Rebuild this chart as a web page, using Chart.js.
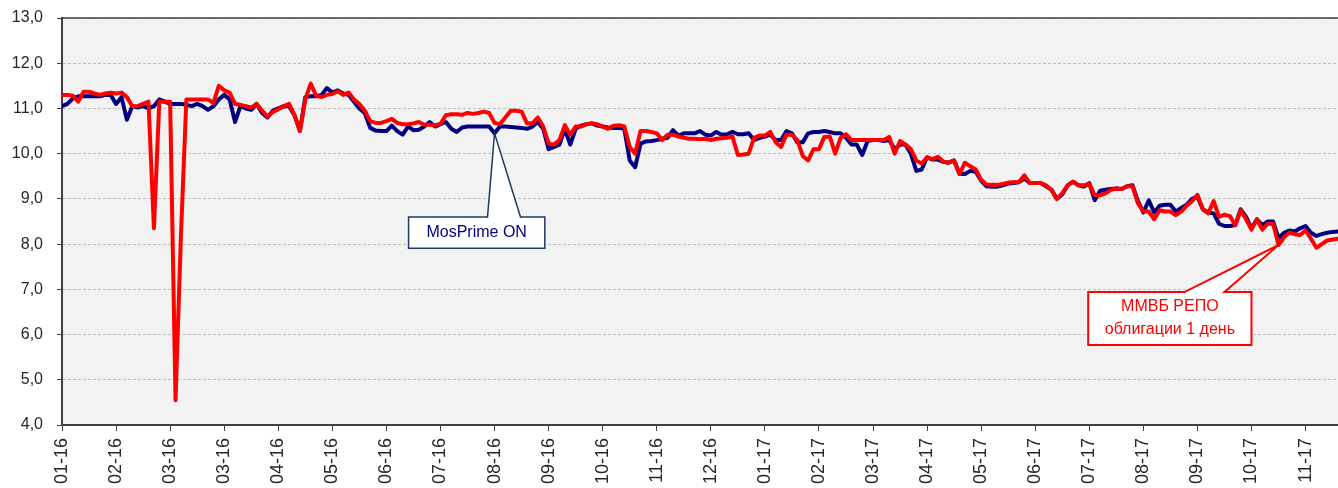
<!DOCTYPE html>
<html>
<head>
<meta charset="utf-8">
<script src="https://cdn.jsdelivr.net/npm/chart.js@4.4.1/dist/chart.umd.min.js"></script>
<style>
  html, body { margin: 0; padding: 0; background: #ffffff; }
  #wrap { width: 1338px; height: 488px; position: relative; }
</style>
</head>
<body>
<div id="wrap"><canvas id="rateChart"></canvas></div>
<script>
// Tick labels along the x axis, one every 10 trading days
const tickLabels = ['01-16', '02-16', '03-16', '03-16', '04-16', '05-16', '06-16', '07-16',
    '08-16', '09-16', '10-16', '11-16', '12-16', '01-17', '02-17', '03-17', '04-17', '05-17',
    '06-17', '07-17', '08-17', '09-17', '10-17', '11-17'];
const tickStep = 10;

// MosPrime ON, %
const mosprime = [
    11.05, 11.1, 11.22, 11.27, 11.27, 11.27, 11.27, 11.27, 11.3, 11.3,
    11.1, 11.25, 10.75, 11.05, 11.02, 11.05, 11.0, 11.05, 11.2, 11.15,
    11.1, 11.1, 11.1, 11.08, 11.05, 11.1, 11.05, 10.97, 11.05, 11.2,
    11.3, 11.2, 10.7, 11.05, 11.0, 10.97, 11.1, 10.9, 10.8, 10.95,
    11.0, 11.05, 11.05, 10.85, 10.5, 11.25, 11.27, 11.27, 11.3, 11.45,
    11.35, 11.4, 11.33, 11.3, 11.15, 11.0, 10.9, 10.57, 10.51, 10.5,
    10.5, 10.62, 10.5, 10.42, 10.6, 10.52, 10.53, 10.6, 10.7, 10.6,
    10.65, 10.7, 10.55, 10.48, 10.58, 10.6, 10.6, 10.6, 10.6, 10.6,
    10.45, 10.6, 10.6, 10.59, 10.58, 10.57, 10.55, 10.6, 10.7, 10.55,
    10.1, 10.15, 10.2, 10.55, 10.2, 10.55, 10.62, 10.65, 10.67, 10.62,
    10.6, 10.58, 10.57, 10.57, 10.55, 9.85, 9.7, 10.22, 10.27, 10.28,
    10.3, 10.33, 10.35, 10.52, 10.4, 10.45, 10.45, 10.45, 10.5, 10.42,
    10.4, 10.48, 10.42, 10.43, 10.48, 10.43, 10.43, 10.45, 10.3, 10.35,
    10.38, 10.42, 10.3, 10.3, 10.5, 10.45, 10.25, 10.25, 10.45, 10.48,
    10.48, 10.5, 10.48, 10.45, 10.45, 10.35, 10.2, 10.2, 9.97, 10.28,
    10.3, 10.3, 10.28, 10.3, 10.1, 10.2, 10.2, 10.0, 9.62, 9.65,
    9.92, 9.87, 9.87, 9.82, 9.8, 9.85, 9.55, 9.55, 9.62, 9.6,
    9.4, 9.28, 9.27, 9.27, 9.3, 9.34, 9.35, 9.37, 9.45, 9.35,
    9.35, 9.35, 9.28, 9.2, 9.0, 9.1, 9.3, 9.38, 9.3, 9.27,
    9.35, 8.97, 9.18, 9.2, 9.22, 9.23, 9.22, 9.28, 9.3, 8.95,
    8.7, 8.97, 8.7, 8.85, 8.87, 8.87, 8.72, 8.8, 8.87, 9.0,
    9.05, 8.77, 8.7, 8.68, 8.45, 8.4, 8.4, 8.42, 8.77, 8.6,
    8.35, 8.55, 8.42, 8.5, 8.5, 8.13, 8.25, 8.3, 8.28, 8.35,
    8.4, 8.25, 8.18, 8.22, 8.25, 8.27, 8.28
];

// MICEX repo (bonds, 1 day), %
const repo = [
    11.3, 11.3, 11.28, 11.15, 11.37, 11.37, 11.33, 11.3, 11.33, 11.35,
    11.33, 11.35, 11.25, 11.05, 11.05, 11.1, 11.15, 8.35, 11.15, 11.15,
    11.15, 4.55, 8.2, 11.2, 11.2, 11.2, 11.2, 11.2, 11.12, 11.5,
    11.4, 11.35, 11.1, 11.08, 11.05, 11.02, 11.1, 10.95, 10.82, 10.92,
    10.98, 11.05, 11.1, 10.85, 10.5, 11.2, 11.55, 11.28, 11.25, 11.3,
    11.32, 11.38, 11.3, 11.35, 11.2, 11.1, 10.95, 10.72, 10.68, 10.68,
    10.72, 10.77, 10.68, 10.65, 10.65, 10.67, 10.7, 10.64, 10.64, 10.63,
    10.66, 10.85, 10.87, 10.87, 10.86, 10.9, 10.88, 10.9, 10.93, 10.9,
    10.68, 10.65, 10.8, 10.95, 10.95, 10.93, 10.67, 10.67, 10.8, 10.6,
    10.22, 10.2, 10.3, 10.63, 10.42, 10.6, 10.6, 10.65, 10.67, 10.65,
    10.6, 10.55, 10.62, 10.63, 10.6, 10.15, 10.0, 10.5, 10.5, 10.48,
    10.45, 10.3, 10.42, 10.42, 10.38, 10.35, 10.33, 10.33, 10.32, 10.33,
    10.3, 10.33, 10.34, 10.35, 10.38, 9.97, 9.98, 10.0, 10.35, 10.4,
    10.4, 10.48, 10.25, 10.15, 10.42, 10.42, 10.3, 9.95, 9.85, 10.1,
    10.1, 10.37, 10.38, 10.0, 10.35, 10.43, 10.3, 10.3, 10.3, 10.3,
    10.3, 10.3, 10.3, 10.37, 10.0, 10.28, 10.2, 10.1, 9.85, 9.78,
    9.92, 9.88, 9.93, 9.82, 9.8, 9.85, 9.55, 9.8, 9.72, 9.65,
    9.42, 9.32, 9.31, 9.31, 9.33, 9.36, 9.37, 9.38, 9.52, 9.35,
    9.35, 9.35, 9.3, 9.2, 9.0, 9.12, 9.3, 9.38, 9.3, 9.3,
    9.33, 9.08, 9.08, 9.12, 9.2, 9.23, 9.22, 9.28, 9.28, 8.9,
    8.73, 8.72, 8.55, 8.75, 8.72, 8.72, 8.64, 8.72, 8.85, 8.95,
    9.09, 8.77, 8.68, 8.95, 8.6, 8.65, 8.62, 8.42, 8.75, 8.55,
    8.32, 8.55, 8.32, 8.45, 8.45, 7.98, 8.15, 8.25, 8.22, 8.2,
    8.3, 8.12, 7.92, 8.0, 8.08, 8.1, 8.12
];

const yTicks = { min: 4, max: 13, step: 1 };

const FONT = "'Liberation Sans', Arial, sans-serif";
const NAVY = '#000080';
const RED = '#FF0000';

// Callout boxes, placed in axis units (day index / percent)
const callouts = [
    {
        series: mosprime, point: 80,
        box: [64.1, 89.3, 8.6, 7.91], base: [78.7, 84.8],
        border: '#1F3864', borderWidth: 1.5, color: NAVY,
        lines: ['MosPrime ON']
    },
    {
        series: repo, point: 225,
        box: [189.8, 220, 6.94, 5.77], base: [207.6, 215.0],
        border: RED, borderWidth: 2, color: RED,
        lines: ['ММВБ РЕПО', 'облигации 1 день']
    }
];

function toPoints(values) {
    return values.map((v, i) => ({ x: i, y: v }));
}

function drawCallout(chart, c) {
    const ctx = chart.ctx;
    const xs = chart.scales.x;
    const ys = chart.scales.y;
    const left = xs.getPixelForValue(c.box[0]);
    const right = xs.getPixelForValue(c.box[1]);
    const top = ys.getPixelForValue(c.box[2]);
    const bottom = ys.getPixelForValue(c.box[3]);
    const b1 = xs.getPixelForValue(c.base[0]);
    const b2 = xs.getPixelForValue(c.base[1]);
    const tipX = xs.getPixelForValue(c.point);
    const tipY = ys.getPixelForValue(c.series[c.point]);

    ctx.save();
    ctx.beginPath();
    ctx.moveTo(left, top);
    ctx.lineTo(b1, top);
    ctx.lineTo(tipX, tipY);
    ctx.lineTo(b2, top);
    ctx.lineTo(right, top);
    ctx.lineTo(right, bottom);
    ctx.lineTo(left, bottom);
    ctx.closePath();
    ctx.fillStyle = '#ffffff';
    ctx.fill();
    ctx.lineWidth = c.borderWidth;
    ctx.strokeStyle = c.border;
    ctx.lineJoin = 'miter';
    ctx.stroke();

    ctx.fillStyle = c.color;
    ctx.font = '16px ' + FONT;
    ctx.textAlign = 'center';
    ctx.textBaseline = 'middle';
    const cx = (left + right) / 2;
    const cy = (top + bottom) / 2;
    const lh = 23;
    c.lines.forEach((t, k) => {
        ctx.fillText(t, cx, cy + (k - (c.lines.length - 1) / 2) * lh);
    });
    ctx.restore();
}

const plotDecor = {
    id: 'plotDecor',
    beforeDraw(chart) {
        const { ctx, chartArea: a } = chart;
        ctx.save();
        ctx.fillStyle = '#F2F2F2';
        ctx.fillRect(a.left, a.top, a.right - a.left, a.bottom - a.top);
        ctx.restore();
    },
    afterDraw(chart) {
        const { ctx, chartArea: a } = chart;
        // top border of the plot area
        ctx.save();
        ctx.strokeStyle = '#404040';
        ctx.lineWidth = 1.5;
        ctx.beginPath();
        ctx.moveTo(a.left, a.top);
        ctx.lineTo(a.right, a.top);
        ctx.stroke();
        ctx.restore();
        callouts.forEach(c => drawCallout(chart, c));
    }
};

const ctx = document.getElementById('rateChart').getContext('2d');

new Chart(ctx, {
    type: 'line',
    data: {
        datasets: [
            {
                label: 'ММВБ РЕПО облигации 1 день',
                data: toPoints(repo),
                borderColor: RED,
                backgroundColor: RED,
                borderWidth: 4,
                pointRadius: 0,
                tension: 0,
                borderJoinStyle: 'round',
                borderCapStyle: 'round',
                order: 1
            },
            {
                label: 'MosPrime ON',
                data: toPoints(mosprime),
                borderColor: NAVY,
                backgroundColor: NAVY,
                borderWidth: 4,
                pointRadius: 0,
                tension: 0,
                borderJoinStyle: 'round',
                borderCapStyle: 'round',
                order: 2
            }
        ]
    },
    options: {
        responsive: true,
        maintainAspectRatio: false,
        animation: false,
        layout: { padding: { top: 18, left: 0, right: 0, bottom: 0 } },
        plugins: {
            legend: { display: false },
            tooltip: { enabled: false }
        },
        scales: {
            x: {
                type: 'linear',
                min: 0,
                max: mosprime.length - 1,
                afterFit: scale => {
                    scale.height = 63;
                    scale.paddingLeft = 0;
                    scale.paddingRight = 0;
                },
                grid: {
                    drawOnChartArea: false,
                    tickLength: 6,
                    tickColor: '#404040',
                    lineWidth: 1
                },
                border: { color: '#404040', width: 2 },
                ticks: {
                    stepSize: tickStep,
                    includeBounds: false,
                    autoSkip: false,
                    minRotation: 90,
                    maxRotation: 90,
                    padding: 7,
                    color: '#262626',
                    font: { family: FONT, size: 18 },
                    callback: v => (v % tickStep === 0 ? tickLabels[v / tickStep] : null)
                }
            },
            y: {
                min: yTicks.min,
                max: yTicks.max,
                afterFit: scale => {
                    scale.width = 62;
                    scale.paddingTop = 0;
                    scale.paddingBottom = 0;
                },
                grid: {
                    color: '#BFBFBF',
                    lineWidth: 1,
                    tickLength: 5,
                    tickColor: '#404040'
                },
                border: { color: '#404040', width: 2, dash: [3, 2] },
                ticks: {
                    stepSize: yTicks.step,
                    padding: 14,
                    color: '#262626',
                    font: { family: FONT, size: 16 },
                    callback: v => v.toFixed(1).replace('.', ',')
                }
            }
        }
    },
    plugins: [plotDecor]
});
</script>
</body>
</html>
